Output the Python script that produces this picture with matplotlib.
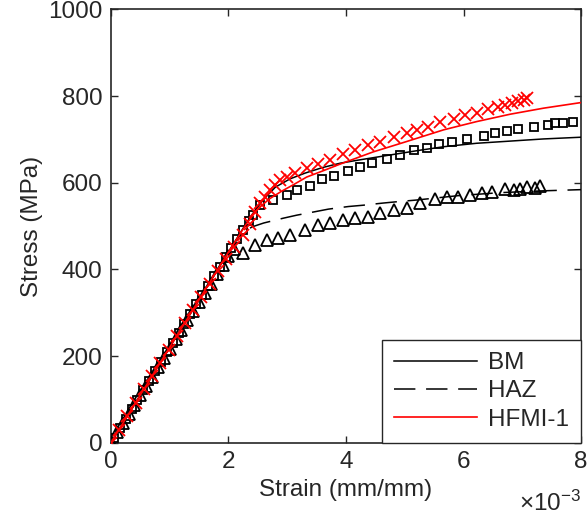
import matplotlib
matplotlib.use("Agg")
import matplotlib.pyplot as plt
import numpy as np
from matplotlib.ticker import FuncFormatter

plt.rcParams["font.family"] = ["Liberation Sans", "DejaVu Sans"]
plt.rcParams["mathtext.fontset"] = "custom"
plt.rcParams["mathtext.rm"] = "Liberation Sans"
plt.rcParams["mathtext.it"] = "Liberation Sans:italic"
plt.rcParams["mathtext.bf"] = "Liberation Sans:bold"

# ---------- data (strain in 1e-3 mm/mm, stress in MPa) ----------
# model curves
bm_line_x = [0, 0.5, 1.0, 1.5, 2.0, 2.3, 2.45, 2.6, 2.8, 3.05, 3.3, 3.6, 3.9, 4.2,
             4.75, 5.26, 5.66, 6.22, 6.79, 7.36, 8.0]
bm_line_y = [0, 110, 220, 330, 440, 506, 536, 562, 590, 609, 622, 635, 645, 652,
             664, 675, 683, 691, 696, 701, 705]

haz_line_x = [0, 0.5, 1.0, 1.5, 2.0, 2.2, 2.4, 2.6, 2.93, 3.16, 3.47, 3.7, 4.04,
              4.29, 4.63, 4.86, 5.2, 5.9, 6.62, 7.3, 8.0]
haz_line_y = [0, 110, 220, 330, 440, 480, 498, 507, 518, 525, 533, 539, 545,
              548, 553, 556, 560, 570, 577, 581, 584]

hfmi_line_x = [0, 0.5, 1.0, 1.5, 2.0, 2.3, 2.5, 2.7, 2.9, 3.1, 3.33, 3.6, 3.9,
               4.46, 5.03, 5.66, 6.22, 6.79, 7.36, 8.0]
hfmi_line_y = [0, 110, 220, 330, 440, 504, 540, 563, 580, 595, 613, 627, 643,
               671, 695, 722, 741, 758, 772, 785]

# experimental points
bm_exp_x = [0.05, 0.15, 0.25, 0.35, 0.45, 0.55, 0.65, 0.75, 0.85, 0.95, 1.05, 1.15,
            1.25, 1.35, 1.45, 1.55, 1.65, 1.75, 1.85, 1.95, 2.05, 2.15, 2.25, 2.35,
            2.42, 2.54, 2.76, 2.99, 3.17, 3.38, 3.59,
            3.80, 4.04, 4.24, 4.45, 4.69, 4.91, 5.15, 5.37, 5.59, 5.80, 6.05, 6.34,
            6.54, 6.74, 6.93, 7.19, 7.44, 7.56, 7.70, 7.87]
bm_exp_y = [11, 33, 55, 77, 99, 121, 143, 165, 187, 209, 231, 253,
            275, 297, 319, 341, 362, 384, 406, 428, 449, 470, 491, 512,
            526, 548, 560, 572, 583, 592, 608,
            616, 628, 637, 645, 655, 664, 675, 681, 689, 694, 702, 708,
            714, 720, 723, 728, 733, 737, 738, 741]

haz_exp_x = [0.0, 0.1, 0.2, 0.3, 0.4, 0.5, 0.6, 0.7, 0.8, 0.9, 1.0, 1.1,
             1.2, 1.3, 1.4, 1.5, 1.6, 1.7, 1.8, 1.9, 2.0, 2.1,
             2.25, 2.45, 2.65, 2.85, 3.05, 3.30, 3.53, 3.73,
             3.95, 4.15, 4.38, 4.58, 4.81, 5.03, 5.26, 5.51, 5.71, 5.91, 6.11, 6.31,
             6.48, 6.71, 6.85, 6.96, 7.08, 7.22, 7.30]
haz_exp_y = [2, 24, 45, 66, 88, 109, 131, 152, 174, 196, 217, 239,
             260, 282, 303, 325, 346, 367, 389, 410, 430, 447,
             437, 456, 467, 472, 479, 491, 502, 506,
             514, 518, 521, 529, 537, 541, 552, 562, 566, 567, 572, 577,
             579, 585, 583, 585, 589, 587, 592]

hfmi_exp_x = [0, 0.14, 0.28, 0.42, 0.56, 0.70, 0.84, 0.98, 1.12, 1.26, 1.40, 1.54,
              1.68, 1.82, 1.96, 2.10, 2.24, 2.36, 2.45, 2.54, 2.62, 2.71, 2.79, 2.88,
              2.99, 3.13, 3.33, 3.53, 3.73, 3.95, 4.15, 4.38, 4.58, 4.81, 5.03, 5.20,
              5.40, 5.60, 5.83, 6.03, 6.22, 6.42, 6.59, 6.71, 6.82, 6.93, 7.02, 7.08]
hfmi_exp_y = [0, 30, 61, 92, 123, 153, 184, 215, 246, 276, 306, 336,
              366, 396, 424, 452, 480, 505, 533, 552, 568, 583, 595, 606,
              614, 623, 633, 643, 652, 666, 675, 687, 695, 706, 714, 722,
              729, 741, 748, 756, 761, 769, 775, 779, 785, 789, 792, 795]

SCALE = 1e-3
DARK = "#262626"
FS = 17.5

fig = plt.figure(figsize=(5.87, 5.22), dpi=100)
ax = fig.add_axes([0.189, 0.152, 0.801, 0.830])

ax.plot(np.array(bm_line_x) * SCALE, bm_line_y, color="black", lw=1.1, label="BM", zorder=3)
ax.plot(np.array(haz_line_x) * SCALE, haz_line_y, color="black", lw=1.1,
        dashes=(14, 7), label="HAZ", zorder=3)
ax.plot(np.array(bm_exp_x) * SCALE, bm_exp_y, ls="none", marker="s", ms=6,
        mfc="none", mec="black", mew=1.3, zorder=4)
ax.plot(np.array(haz_exp_x) * SCALE, haz_exp_y, ls="none", marker="^", ms=9,
        mfc="none", mec="black", mew=1.3, zorder=4)
ax.plot(np.array(hfmi_line_x) * SCALE, hfmi_line_y, color="red", lw=1.2,
        label="HFMI-1", zorder=5)
ax.plot(np.array(hfmi_exp_x) * SCALE, hfmi_exp_y, ls="none", marker="x", ms=8.5,
        mec="red", mew=1.3, zorder=6)

ax.set_xlim(0, 8e-3)
ax.set_ylim(0, 1000)
ax.set_xticks(np.arange(0, 9, 2) * SCALE)
ax.set_yticks(range(0, 1001, 200))
ax.xaxis.set_major_formatter(FuncFormatter(lambda v, p: f"{v / SCALE:g}"))

ax.tick_params(direction="in", length=5, width=1, top=True, right=True,
               labelsize=FS, colors=DARK, pad=6)
for s in ax.spines.values():
    s.set_linewidth(1.2)
    s.set_color(DARK)

ax.set_xlabel("Strain (mm/mm)", fontsize=FS, color=DARK, labelpad=4)
ax.set_ylabel("Stress (MPa)", fontsize=FS, color=DARK, labelpad=4)
# exponent label, MATLAB style
fig.text(0.990, 0.022, r"$\times10^{\mathrm{-3}}$", ha="right", va="baseline",
         fontsize=FS, color=DARK)

leg = ax.legend(loc="lower right", borderaxespad=0, fontsize=FS, handlelength=3.4,
                handletextpad=0.45, labelspacing=0.25, borderpad=0.5,
                fancybox=False, framealpha=1, edgecolor=DARK)
leg.get_frame().set_linewidth(1.0)
for t in leg.get_texts():
    t.set_color(DARK)

fig.savefig("out.png", dpi=100, facecolor="white")
